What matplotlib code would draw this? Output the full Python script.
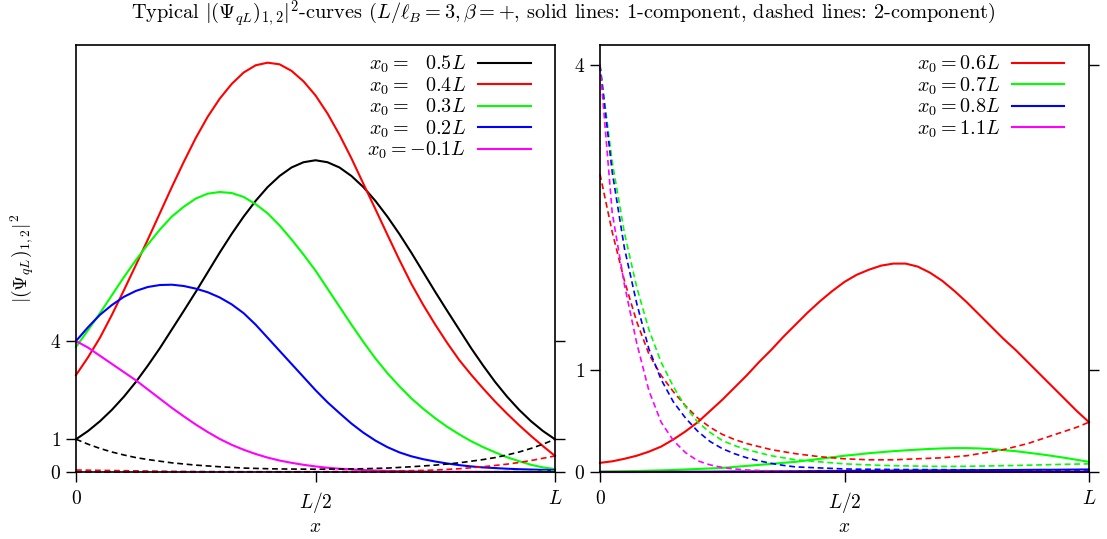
import matplotlib
matplotlib.use("Agg")
import matplotlib.pyplot as plt

plt.rcParams['font.family'] = 'serif'
plt.rcParams['font.serif'] = ['cmr10', 'DejaVu Serif']
plt.rcParams['mathtext.fontset'] = 'cm'
plt.rcParams['axes.formatter.use_mathtext'] = True

# ---- left panel data (x in units of L) ----
x_left = [i * 0.025 for i in range(41)]

solid_05 = [1.0, 1.25, 1.55, 1.9, 2.3, 2.75, 3.25, 3.78, 4.35, 4.92, 5.5,
            6.1, 6.7, 7.27, 7.8, 8.28, 8.7, 9.04, 9.3, 9.46, 9.52,
            9.46, 9.3, 9.04, 8.7, 8.28, 7.8, 7.27, 6.7, 6.1, 5.5,
            4.92, 4.35, 3.78, 3.25, 2.75, 2.3, 1.9, 1.55, 1.25, 1.0]
solid_04 = [2.96, 3.5, 4.1, 4.8, 5.55, 6.32, 7.1, 7.9, 8.7, 9.47, 10.2,
            10.85, 11.4, 11.85, 12.2, 12.42, 12.5, 12.45, 12.25, 11.93, 11.5,
            10.95, 10.3, 9.58, 8.8, 8.03, 7.25, 6.48, 5.75, 5.1, 4.5,
            3.94, 3.42, 2.97, 2.55, 2.15, 1.78, 1.43, 1.1, 0.79, 0.49]
solid_03 = [3.82, 4.33, 4.85, 5.4, 5.95, 6.47, 6.95, 7.4, 7.8, 8.1, 8.35,
            8.5, 8.55, 8.52, 8.4, 8.18, 7.9, 7.53, 7.1, 6.64, 6.15,
            5.6, 5.05, 4.5, 3.97, 3.47, 3.02, 2.62, 2.25, 1.93, 1.64,
            1.38, 1.15, 0.94, 0.76, 0.6, 0.45, 0.33, 0.22, 0.14, 0.09]
solid_02 = [4.0, 4.42, 4.8, 5.1, 5.35, 5.53, 5.65, 5.71, 5.72, 5.68, 5.6,
            5.49, 5.33, 5.12, 4.85, 4.5, 4.1, 3.7, 3.3, 2.9, 2.5,
            2.13, 1.8, 1.48, 1.2, 0.96, 0.76, 0.6, 0.48, 0.39, 0.32,
            0.26, 0.21, 0.17, 0.14, 0.12, 0.1, 0.085, 0.075, 0.065, 0.06]
solid_m01 = [4.0, 3.8, 3.55, 3.3, 3.05, 2.8, 2.52, 2.24, 1.96, 1.7, 1.45,
             1.22, 1.01, 0.83, 0.68, 0.55, 0.44, 0.35, 0.28, 0.22, 0.17,
             0.13, 0.1, 0.08, 0.06, 0.045, 0.035, 0.025, 0.02, 0.015, 0.01,
             0.008, 0.006, 0.005, 0.004, 0.003, 0.002, 0.001, 0.0, 0.0, 0.0]

dash_05 = [1.0, 0.85, 0.72, 0.61, 0.52, 0.44, 0.38, 0.33, 0.28, 0.245, 0.21,
           0.185, 0.16, 0.14, 0.12, 0.11, 0.1, 0.093, 0.09, 0.087, 0.085,
           0.087, 0.09, 0.093, 0.1, 0.11, 0.12, 0.14, 0.16, 0.185, 0.21,
           0.245, 0.28, 0.33, 0.38, 0.44, 0.52, 0.61, 0.72, 0.85, 1.0]
dash_04 = [0.06, 0.055, 0.05, 0.045, 0.04, 0.035, 0.03, 0.025, 0.02, 0.018, 0.015,
           0.013, 0.012, 0.011, 0.01, 0.01, 0.01, 0.01, 0.01, 0.01, 0.01,
           0.012, 0.015, 0.017, 0.02, 0.025, 0.03, 0.035, 0.04, 0.05, 0.06,
           0.08, 0.1, 0.13, 0.16, 0.2, 0.24, 0.29, 0.35, 0.42, 0.49]
dash_03 = [0.0] * 28 + [0.002, 0.003, 0.004, 0.005, 0.007, 0.009, 0.011, 0.013,
                        0.016, 0.019, 0.022, 0.026, 0.03]
dash_02 = [0.0] * 41
dash_m01 = [0.0] * 41

left_labels = [r'$x_0 =\enspace\;0.5L$', r'$x_0 =\enspace\;0.4L$', r'$x_0 =\enspace\;0.3L$',
               r'$x_0 =\enspace\;0.2L$', r'$x_0 = -0.1L$']

# ---- right panel data ----
x_right = [i * 0.025 for i in range(41)]

solid_06 = [0.09, 0.105, 0.13, 0.16, 0.2, 0.25, 0.32, 0.4, 0.49, 0.6, 0.71,
            0.83, 0.95, 1.08, 1.2, 1.33, 1.45, 1.57, 1.68, 1.78, 1.87,
            1.94, 1.99, 2.03, 2.05, 2.05, 2.02, 1.96, 1.88, 1.78, 1.67,
            1.55, 1.43, 1.31, 1.2, 1.08, 0.96, 0.84, 0.72, 0.6, 0.49]
solid_07 = [0.005, 0.006, 0.008, 0.01, 0.013, 0.016, 0.02, 0.025, 0.03, 0.035, 0.04,
            0.05, 0.06, 0.07, 0.08, 0.09, 0.1, 0.115, 0.13, 0.145, 0.16,
            0.172, 0.185, 0.195, 0.205, 0.213, 0.22, 0.227, 0.232, 0.235, 0.235,
            0.232, 0.225, 0.215, 0.205, 0.19, 0.175, 0.158, 0.14, 0.12, 0.1]
solid_08 = [0.0, 0.0, 0.0, 0.0, 0.001, 0.001, 0.002, 0.002, 0.003, 0.003, 0.004,
            0.005, 0.005, 0.006, 0.007, 0.007, 0.008, 0.009, 0.01, 0.01, 0.011,
            0.012, 0.012, 0.013, 0.014, 0.014, 0.015, 0.016, 0.016, 0.017, 0.018,
            0.018, 0.019, 0.02, 0.02, 0.021, 0.022, 0.022, 0.023, 0.024, 0.025]
solid_11 = [0.0] * 41

dash_06 = [2.93, 2.36, 1.88, 1.48, 1.16, 0.95, 0.79, 0.65, 0.53, 0.44, 0.37,
           0.32, 0.28, 0.25, 0.22, 0.2, 0.18, 0.165, 0.15, 0.14, 0.13,
           0.125, 0.12, 0.12, 0.12, 0.125, 0.13, 0.135, 0.14, 0.15, 0.16,
           0.18, 0.2, 0.22, 0.25, 0.28, 0.32, 0.36, 0.4, 0.44, 0.49]
dash_07 = [4.0, 3.05, 2.35, 1.82, 1.4, 1.08, 0.84, 0.64, 0.49, 0.39, 0.31,
           0.26, 0.22, 0.19, 0.16, 0.14, 0.12, 0.11, 0.1, 0.09, 0.08,
           0.075, 0.07, 0.065, 0.062, 0.06, 0.058, 0.056, 0.055, 0.055, 0.056,
           0.058, 0.06, 0.062, 0.064, 0.067, 0.07, 0.073, 0.076, 0.078, 0.08]
dash_08 = [4.0, 2.95, 2.2, 1.66, 1.21, 0.91, 0.69, 0.53, 0.4, 0.3, 0.23,
           0.18, 0.14, 0.11, 0.085, 0.065, 0.05, 0.045, 0.04, 0.035, 0.03,
           0.028, 0.027, 0.026, 0.025, 0.024, 0.024, 0.023, 0.023, 0.022, 0.022,
           0.022, 0.021, 0.021, 0.021, 0.02, 0.02, 0.02, 0.02, 0.02, 0.02]
dash_11 = [4.0, 2.55, 1.84, 1.27, 0.8, 0.49, 0.31, 0.19, 0.11, 0.07, 0.045,
           0.03, 0.02, 0.015, 0.01, 0.008, 0.006, 0.005, 0.004, 0.003, 0.002,
           0.002, 0.001, 0.001, 0.001, 0.0, 0.0, 0.0, 0.0, 0.0, 0.0,
           0.0, 0.0, 0.0, 0.0, 0.0, 0.0, 0.0, 0.0, 0.0, 0.0]

right_labels = [r'$x_0 = 0.6L$', r'$x_0 = 0.7L$', r'$x_0 = 0.8L$', r'$x_0 = 1.1L$']

colors = ['black', '#ff0000', '#00ff00', '#0000ff', '#ff00ff']
lw_solid = 1.5
lw_dash = 1.2
dash_style = (0, (3.5, 2.2))

fig = plt.figure(figsize=(11.07, 5.39), dpi=100)
ax1 = fig.add_axes([76 / 1107, 1 - 472 / 539, 479 / 1107, 427 / 539])
ax2 = fig.add_axes([600 / 1107, 1 - 472 / 539, 489 / 1107, 427 / 539])

# left panel
for ys, c, lab in zip([solid_05, solid_04, solid_03, solid_02, solid_m01], colors, left_labels):
    ax1.plot(x_left, ys, color=c, lw=lw_solid, label=lab, clip_on=False)
for ys, c in zip([dash_05, dash_04, dash_03, dash_02, dash_m01], colors):
    ax1.plot(x_left, ys, color=c, lw=lw_dash, linestyle=dash_style, clip_on=False)

# right panel
for ys, c, lab in zip([solid_06, solid_07, solid_08, solid_11], colors[1:], right_labels):
    ax2.plot(x_right, ys, color=c, lw=lw_solid, label=lab, clip_on=False)
for ys, c in zip([dash_06, dash_07, dash_08, dash_11], colors[1:]):
    ax2.plot(x_right, ys, color=c, lw=lw_dash, linestyle=dash_style, clip_on=False)

ax1.set_ylim(0, 13.04)
ax2.set_ylim(0, 4.2)

for ax in (ax1, ax2):
    ax.set_xlim(0, 1)
    ax.set_xticks([0, 0.5, 1])
    ax.set_xticklabels(['$0$', '$L/2$', '$L$'])
    ax.set_yticks([0, 1, 4])
    ax.set_yticklabels(['$0$', '$1$', '$4$'])
    ax.tick_params(axis='both', direction='out', length=7, width=1,
                   labelsize=14, right=True, top=False)
    ax.tick_params(axis='x', pad=6)
    ax.tick_params(axis='y', pad=4)
    for sp in ax.spines.values():
        sp.set_linewidth(1.2)
    ax.set_xlabel('$x$', fontsize=14, labelpad=2)
    ax.legend(loc='upper right', frameon=False, markerfirst=False, fontsize=14.5,
              handlelength=2.6, handletextpad=0.6, labelspacing=0.0,
              borderaxespad=0.0, bbox_to_anchor=(0.966, 0.998))

ax1.set_ylabel(r'$|(\Psi_{qL})_{1,2}|^2$', fontsize=14, labelpad=10)

fig.text(0.509, 1 - 14 / 539,
         r'Typical $|(\Psi_{qL})_{1,2}|^2$-curves $(L/\ell_B = 3, \beta = +$, '
         r'solid lines: 1-component, dashed lines: 2-component)',
         ha='center', va='center', fontsize=14.7)

fig.savefig('out.png', dpi=100)
